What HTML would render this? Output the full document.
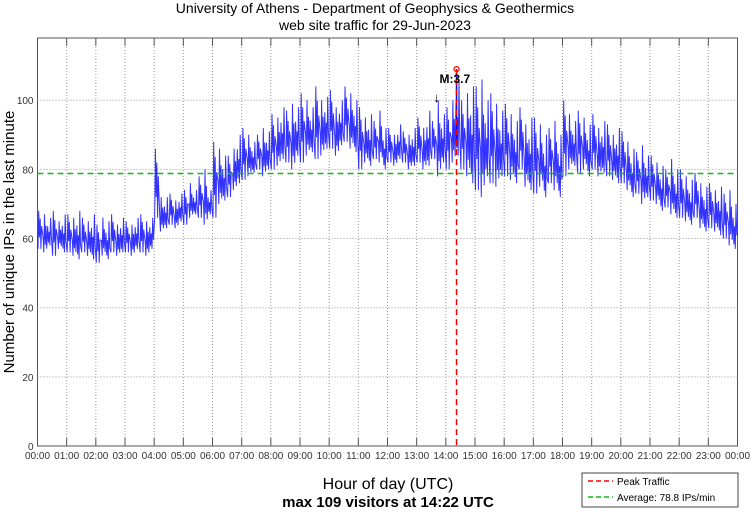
<!DOCTYPE html>
<html><head><meta charset="utf-8"><style>
body{margin:0;background:#fff;}
svg text{font-family:"Liberation Sans",sans-serif;}
</style></head><body>
<svg id="c" width="750" height="511" xmlns="http://www.w3.org/2000/svg">
<text x="375" y="13" font-size="14" text-anchor="middle">University of Athens - Department of Geophysics &amp; Geothermics</text>
<text x="375" y="30" font-size="14" text-anchor="middle">web site traffic for 29-Jun-2023</text>
<rect x="37.5" y="38" width="700" height="408" fill="#fff" stroke="#555"/>
<g id="grid"></g><g id="series"></g><g id="overlay"></g>
<text x="14" y="242" font-size="15" text-anchor="middle" transform="rotate(-90 14 242)">Number of unique IPs in the last minute</text>
<text x="388" y="489" font-size="16" text-anchor="middle">Hour of day (UTC)</text>
<text x="388" y="507" font-size="15" font-weight="bold" text-anchor="middle">max 109 visitors at 14:22 UTC</text>
<g>
<rect x="582" y="473" width="156" height="34" fill="#fff" stroke="#444"/>
<line x1="588" y1="481" x2="613" y2="481" stroke="#f00" stroke-dasharray="5,3" stroke-width="1.5"/>
<text x="617" y="485" font-size="10">Peak Traffic</text>
<line x1="588" y1="497" x2="613" y2="497" stroke="#1b1" stroke-dasharray="5,3" stroke-width="1.5"/>
<text x="617" y="501" font-size="10">Average: 78.8 IPs/min</text>
</g>
</svg>
<script>
const yTicks=[0,20,40,60,80,100];
const hourLabels=["00:00","01:00","02:00","03:00","04:00","05:00","06:00","07:00","08:00","09:00","10:00","11:00","12:00","13:00","14:00","15:00","16:00","17:00","18:00","19:00","20:00","21:00","22:00","23:00","00:00"];
const binLow=[57,56,58,55,57,56, 56,55,54,56,55,54, 53,55,54,56,55,56, 56,55,57,56,55,57,
66,62,63,64,63,65, 64,66,67,66,64,67, 66,70,71,72,74,76, 77,78,79,80,78,80,
80,81,83,82,80,84, 82,84,85,83,84,86, 86,84,87,88,86,85, 80,82,81,83,82,80,
82,81,83,82,80,81, 82,80,81,83,78,82, 80,82,84,80,78,76, 74,72,78,76,75,78,
78,77,76,80,75,74, 73,75,72,76,74,72, 78,80,81,79,80,78, 80,78,79,78,77,76,
76,74,72,73,70,72, 71,70,68,69,67,66, 66,65,64,66,63,62, 63,62,61,60,58,57];
const binHigh=[68,67,66,68,65,67, 67,66,68,66,65,67, 64,66,65,67,64,66, 65,64,66,67,65,66,
86,72,72,73,71,73, 74,76,74,78,80,74, 88,86,84,84,86,90, 92,90,88,90,92,91,
96,95,98,97,99,98, 102,100,98,104,100,101, 103,98,100,104,102,100, 98,95,96,94,97,92,
92,90,93,91,90,92, 95,92,97,94,100,96, 98,100,106,100,102,104, 104,106,100,102,99,97,
99,96,94,98,93,95, 95,93,90,92,94,90, 100,96,94,97,95,93, 96,92,94,93,90,92,
91,88,86,85,87,84, 84,82,81,80,83,80, 80,78,77,79,76,75, 76,74,75,73,74,70];
const peakMinute=862, peakValue=109, averageValue=78.8, markerLabel="M:3.7";
const X0=37.5,X1=737.5,Y0=446,Y1=38,YMAX=118;
const xs=m=>X0+(X1-X0)*m/1440, ys=v=>Y0-(Y0-Y1)*v/YMAX;
const NS="http://www.w3.org/2000/svg";
function mk(p,t,a){const e=document.createElementNS(NS,t);for(const k in a)e.setAttribute(k,a[k]);document.getElementById(p).appendChild(e);return e;}
yTicks.forEach(v=>{
 if(v>0){const g=mk('grid','line',{x1:X0,x2:X1,y1:ys(v),y2:ys(v),stroke:'#999','stroke-dasharray':'1,2'});
 
 }
 const t=mk('grid','text',{x:X0-4,y:ys(v)+4,'font-size':10,'text-anchor':'end',fill:'#333'});t.textContent=v;
 
 
});
hourLabels.forEach((h,i)=>{const x=xs(i*60);
 if(i>0&&i<24){const g=mk('grid','line',{x1:x,x2:x,y1:Y1,y2:Y0,stroke:'#999','stroke-dasharray':'1,2'});
 
 }
 mk('grid','line',{x1:x,x2:x,y1:Y0,y2:Y0-8,stroke:'#555'});mk('grid','line',{x1:x,x2:x,y1:Y1,y2:Y1+8,stroke:'#555'});
 const t=mk('grid','text',{x:x,y:Y0+13,'font-size':10,'text-anchor':'middle',fill:'#333'});t.textContent=h;
 
 
});
const patterns=[[[1,0],[2.5,1],[4,0.3],[5.5,0.8],[7,0],[8.5,0.6]],[[1.5,0.4],[3,0],[4.5,1],[6,0.2],[7.5,0.7],[9,0.1]],[[1,0.7],[2.5,0.1],[4,0.5],[5.5,0],[7,1],[8.5,0.3]]];
let d='';
binLow.forEach((lo,i)=>{const hi=binHigh[i],b=i*10;
 patterns[i%3].forEach(([o,f],j)=>{d+=(i===0&&j===0?'M':'L')+xs(b+o).toFixed(1)+','+ys(lo+(hi-lo)*f).toFixed(1);});
});
const ln=mk('series','path',{d:d,fill:'none',stroke:'#00f','stroke-width':1,'stroke-opacity':0.8});


const av=mk('overlay','line',{x1:X0,x2:X1,y1:ys(averageValue),y2:ys(averageValue),stroke:'#1b1','stroke-width':1.5,'stroke-dasharray':'6,4'});


const px=xs(peakMinute);
const sp=mk('overlay','line',{x1:px,x2:px,y1:ys(peakValue),y2:ys(averageValue+8),stroke:'#00f','stroke-width':1.5});


const pl=mk('overlay','line',{x1:px,x2:px,y1:ys(peakValue),y2:Y0,stroke:'#e00','stroke-width':1.5,'stroke-dasharray':'6,4'});


const pc=mk('overlay','circle',{cx:px,cy:ys(peakValue),r:2.5,fill:'none',stroke:'#f00','stroke-width':1.2});


const ml=mk('overlay','text',{x:px-17,y:ys(peakValue)+14,'font-size':12,'font-weight':'bold'});ml.textContent=markerLabel;


const ar=mk('overlay','text',{x:px-20,y:ys(100)+2,'font-size':13,'text-anchor':'middle'});ar.textContent='↓';


</script>
</body></html>
